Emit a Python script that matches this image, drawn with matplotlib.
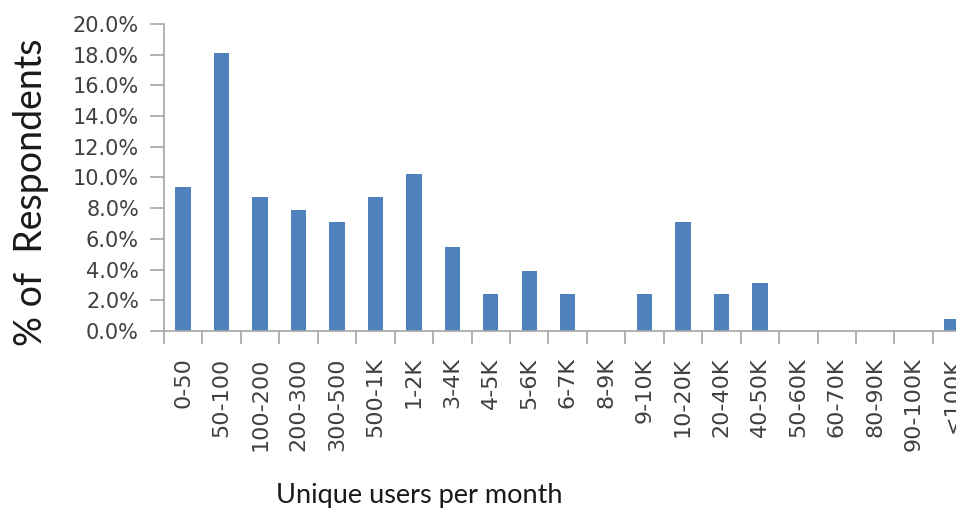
import numpy as np
import matplotlib.pyplot as plt
from matplotlib.ticker import FuncFormatter, MultipleLocator, FixedLocator

categories = ["0-50", "50-100", "100-200", "200-300", "300-500", "500-1K", "1-2K",
              "3-4K", "4-5K", "5-6K", "6-7K", "8-9K", "9-10K", "10-20K", "20-40K",
              "40-50K", "50-60K", "60-70K", "80-90K", "90-100K", "<100K"]
percentRespondents = [9.4, 18.1, 8.7, 7.9, 7.1, 8.7, 10.2, 5.5, 2.4, 3.9, 2.4, 0.0,
                      2.4, 7.1, 2.4, 3.1, 0.0, 0.0, 0.0, 0.0, 0.8]

axisColor = "#a6a6a6"
textColor = "#404040"

fig = plt.figure(figsize=(9.56, 5.13), dpi=100)
ax = fig.add_axes([0.1715, 0.3548, 0.8285, 0.5984])

x = np.arange(len(categories))
ax.bar(x, percentRespondents, width=0.4, color="#4f81bd")

ax.set_xlim(-0.5, 20.1)
ax.set_ylim(0, 20)

ax.yaxis.set_major_locator(MultipleLocator(2))
ax.yaxis.set_major_formatter(FuncFormatter(lambda v, p: f"{v:.1f}%"))
ax.set_xticks(x)
ax.set_xticklabels(categories, rotation=90, fontsize=16, color=textColor)
ax.xaxis.set_minor_locator(FixedLocator(np.arange(-0.5, len(categories), 1)))
ax.tick_params(axis="x", which="major", length=0, pad=19)
ax.tick_params(axis="x", which="minor", length=9, width=1.2, color=axisColor, direction="out")
ax.tick_params(axis="y", length=10, width=1.2, color=axisColor, labelsize=15, labelcolor=textColor, pad=8)

for side in ["top", "right"]:
    ax.spines[side].set_visible(False)
for side in ["left", "bottom"]:
    ax.spines[side].set_color(axisColor)
    ax.spines[side].set_linewidth(1.2)

# axis titles placed by hand, the x title sits left of the axes centre in the original
fig.text(0.032, 0.626, "% of  Respondents", rotation=90, ha="center", va="center",
         fontsize=27, family="Lato", color="#1a1a1a")
fig.text(0.439, 0.034, "Unique users per month", ha="center", va="center",
         fontsize=19.5, family="Lato", color="#1a1a1a")

fig.savefig("out.png", dpi=100)
